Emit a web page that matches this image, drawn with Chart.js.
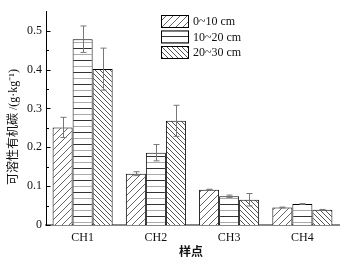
<!DOCTYPE html>
<html><head><meta charset="utf-8">
<script src="https://cdn.jsdelivr.net/npm/chart.js@4/dist/chart.umd.min.js"></script>
<style>html,body{margin:0;padding:0;background:#fff}#wrap{width:347px;height:267px}</style>
</head><body><div id="wrap"><canvas id="c" width="347" height="267"></canvas></div>
<script>
const categories = ['CH1', 'CH2', 'CH3', 'CH4'];
const seriesLabels = ['0~10 cm', '10~20 cm', '20~30 cm'];
const depth0_10 = [0.251, 0.132, 0.091, 0.045];
const depth10_20 = [0.478, 0.186, 0.074, 0.054];
const depth20_30 = [0.401, 0.268, 0.065, 0.039];
const err0_10 = [0.026, 0.005, 0.001, 0.001];
const err10_20 = [0.034, 0.021, 0.003, 0.001];
const err20_30 = [0.054, 0.040, 0.016, 0.001];
const majorTicks = [0, 0.1, 0.2, 0.3, 0.4, 0.5];
const minorTicks = [0.05, 0.15, 0.25, 0.35, 0.45];
const yTitle = '可溶性有机碳 /(g·kg⁻¹)';
const xTitle = '样点';

const SERIF = "'Liberation Serif','Noto Sans CJK SC',serif";

function diagPattern(dir, size, color) {
  const c = document.createElement('canvas'); c.width = size; c.height = size;
  const x = c.getContext('2d');
  x.fillStyle = '#fff'; x.fillRect(0, 0, size, size);
  x.strokeStyle = color; x.lineWidth = 1;
  x.beginPath();
  if (dir > 0) {
    x.moveTo(-1, size + 1); x.lineTo(size + 1, -1);
    x.moveTo(-1, 1); x.lineTo(1, -1);
    x.moveTo(size - 1, size + 1); x.lineTo(size + 1, size - 1);
  } else {
    x.moveTo(-1, -1); x.lineTo(size + 1, size + 1);
    x.moveTo(-1, size - 1); x.lineTo(1, size + 1);
    x.moveTo(size - 1, -1); x.lineTo(size + 1, 1);
  }
  x.stroke();
  return x.createPattern(c, 'repeat');
}
function horizPattern() {
  const c = document.createElement('canvas'); c.width = 6; c.height = 12;
  const x = c.getContext('2d');
  x.fillStyle = '#fff'; x.fillRect(0, 0, 6, 12);
  x.fillStyle = '#333'; x.fillRect(0, 0, 6, 1);
  x.fillStyle = '#aaa'; x.fillRect(0, 6, 6, 1);
  return x.createPattern(c, 'repeat');
}

const patterns = [diagPattern(1, 7, '#666'), horizPattern(), diagPattern(-1, 5, '#555')];
const values = [depth0_10, depth10_20, depth20_30];
const errors = [err0_10, err10_20, err20_30];

const decor = {
  id: 'decor',
  afterDatasetsDraw(chart) {
    const ctx = chart.ctx, ys = chart.scales.y;
    ctx.save();
    // error bars
    ctx.strokeStyle = '#777'; ctx.lineWidth = 1;
    values.forEach((vals, i) => {
      const meta = chart.getDatasetMeta(i);
      vals.forEach((v, j) => {
        const bx = Math.round(meta.data[j].x) + 0.5;
        const yh = ys.getPixelForValue(v + errors[i][j]);
        const yl = ys.getPixelForValue(v - errors[i][j]);
        ctx.beginPath();
        ctx.moveTo(bx, yh); ctx.lineTo(bx, yl);
        ctx.moveTo(bx - 3, yh); ctx.lineTo(bx + 3, yh);
        ctx.moveTo(bx - 3, yl); ctx.lineTo(bx + 3, yl);
        ctx.stroke();
      });
    });
    ctx.restore();
  },
  afterDraw(chart) {
    const ctx = chart.ctx, ys = chart.scales.y, area = chart.chartArea;
    ctx.save();
    // inward ticks
    ctx.strokeStyle = '#000'; ctx.lineWidth = 1;
    const ax = Math.round(area.left) + 0.5;
    majorTicks.forEach(t => {
      const py = Math.round(ys.getPixelForValue(t)) + 0.5;
      ctx.beginPath(); ctx.moveTo(ax, py); ctx.lineTo(ax + 4, py); ctx.stroke();
    });
    minorTicks.forEach(t => {
      const py = Math.round(ys.getPixelForValue(t)) + 0.5;
      ctx.beginPath(); ctx.moveTo(ax, py); ctx.lineTo(ax + 2.5, py); ctx.stroke();
    });
    // axis titles
    ctx.fillStyle = '#111';
    ctx.font = '12px ' + SERIF;
    ctx.textAlign = 'center'; ctx.textBaseline = 'middle';
    ctx.save();
    ctx.translate(14, 127);
    ctx.rotate(-Math.PI / 2);
    ctx.fillText(yTitle, 0, 0);
    ctx.restore();
    ctx.font = 'bold 12px ' + SERIF;
    ctx.fillText(xTitle, 191, 253);
    // legend
    ctx.font = '12px ' + SERIF;
    ctx.textAlign = 'left';
    const rows = [15, 30.5, 46];
    seriesLabels.forEach((lab, i) => {
      ctx.fillStyle = patterns[i];
      ctx.fillRect(161, rows[i], 28, 13);
      ctx.strokeStyle = '#000'; ctx.lineWidth = 1;
      ctx.strokeRect(161.5, rows[i] + 0.5, 27, 12);
      ctx.fillStyle = '#111';
      ctx.fillText(lab, 193, rows[i] + 7);
    });
    ctx.restore();
  }
};

new Chart(document.getElementById('c'), {
  type: 'bar',
  data: {
    labels: categories,
    datasets: values.map((vals, i) => ({
      label: seriesLabels[i],
      data: vals,
      backgroundColor: patterns[i],
      borderColor: '#000',
      borderWidth: 1,
      barPercentage: 1,
      categoryPercentage: 0.82
    }))
  },
  options: {
    responsive: false,
    animation: false,
    devicePixelRatio: 1,
    layout: { padding: { top: 6, right: 8, left: 0, bottom: 0 } },
    plugins: { legend: { display: false }, tooltip: { enabled: false } },
    scales: {
      x: {
        grid: { display: false, drawTicks: false },
        border: { display: true, color: '#888', width: 2 },
        ticks: { color: '#111', font: { family: SERIF, size: 12 }, padding: 6 },
        afterFit(s) { s.height = 42; }
      },
      y: {
        min: 0, max: 0.55,
        grid: { display: false, drawTicks: false },
        border: { display: true, color: '#000', width: 1 },
        afterBuildTicks(s) { s.ticks = majorTicks.map(v => ({ value: v })); },
        ticks: {
          color: '#111', font: { family: SERIF, size: 12 }, padding: 4,
          callback: v => String(+(+v).toFixed(1))
        },
        afterFit(s) { s.width = 46; }
      }
    }
  },
  plugins: [decor]
});
</script>
</body></html>
